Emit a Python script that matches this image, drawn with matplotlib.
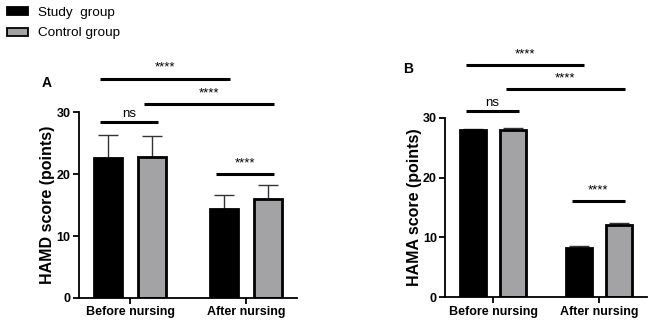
import matplotlib
matplotlib.use('Agg')
import matplotlib.pyplot as plt
from matplotlib.patches import Patch

plt.rcParams['font.family'] = ['Liberation Sans', 'DejaVu Sans']

groups = ['Before nursing', 'After nursing']
series = ['Study  group', 'Control group']

hamd_mean = {'Study  group': [22.6, 14.4], 'Control group': [22.8, 16.0]}
hamd_sd = {'Study  group': [3.8, 2.2], 'Control group': [3.4, 2.3]}
hama_mean = {'Study  group': [28.0, 8.3], 'Control group': [28.0, 12.1]}
hama_sd = {'Study  group': [0.15, 0.35], 'Control group': [0.2, 0.25]}

# comparisons: (group_i, series_i, group_j, series_j, height, label)
hamd_sig = [(0, 0, 0, 1, 28.5, 'ns'), (0, 0, 1, 0, 35.4, '****'),
            (0, 1, 1, 1, 31.3, '****'), (1, 0, 1, 1, 20.0, '****')]
hama_sig = [(0, 0, 0, 1, 31.2, 'ns'), (0, 0, 1, 0, 38.8, '****'),
            (0, 1, 1, 1, 34.8, '****'), (1, 0, 1, 1, 16.1, '****')]

colors = ['black', '#a3a3a6']
offset = 0.19
width = 0.245

fig = plt.figure(figsize=(6.52, 3.23), dpi=100)
axA = fig.add_axes([0.1212, 0.0774, 0.3343, 0.5749])
axB = fig.add_axes([0.6830, 0.0796, 0.3093, 0.5560])


def draw(ax, means, sds, sigs, ylabel, xlim):
    for k, s in enumerate(series):
        xs = [g + (2 * k - 1) * offset for g in range(len(groups))]
        ax.errorbar(xs, means[s], yerr=[[0] * len(xs), sds[s]], fmt='none',
                    ecolor='#333333', elinewidth=1, capsize=7, capthick=1, zorder=1)
        ax.bar(xs, means[s], width=width, color=colors[k], edgecolor='black',
               linewidth=2, zorder=2)
    for gi, si, gj, sj, h, lab in sigs:
        x1 = gi + (2 * si - 1) * offset - 0.07
        x2 = gj + (2 * sj - 1) * offset + 0.05
        ax.plot([x1, x2], [h, h], color='black', lw=2.2, clip_on=False,
                solid_capstyle='butt')
        if lab == 'ns':
            ax.text((x1 + x2) / 2, h + 0.7, lab, ha='center', va='baseline', fontsize=9.5)
        else:
            ax.text((x1 + x2) / 2, h + 1.3, lab, ha='center', va='baseline', fontsize=9.5)
    ax.set_xlim(*xlim)
    ax.set_ylim(0, 30)
    ax.set_yticks([0, 10, 20, 30])
    ax.set_xticks(range(len(groups)))
    ax.set_xticklabels(groups, fontsize=9, fontweight='bold')
    for lab in ax.get_yticklabels():
        lab.set_fontweight('bold')
        lab.set_fontsize(9)
    ax.set_ylabel(ylabel, fontsize=11.5, fontweight='bold', labelpad=1)
    ax.spines['top'].set_visible(False)
    ax.spines['right'].set_visible(False)
    ax.spines['left'].set_linewidth(1.3)
    ax.spines['bottom'].set_linewidth(1.3)
    ax.tick_params(axis='both', width=1.3, length=4, pad=2)


draw(axA, hamd_mean, hamd_sd, hamd_sig, 'HAMD score (points)', (-0.44, 1.44))
draw(axB, hama_mean, hama_sd, hama_sig, 'HAMA score (points)', (-0.453, 1.45))
axA.text(-0.17, 1.158, 'A', transform=axA.transAxes, fontsize=10,
         fontweight='bold', ha='left', va='center')
axB.text(-0.21, 1.27, 'B', transform=axB.transAxes, fontsize=10,
         fontweight='bold', ha='left', va='center')

handles = [Patch(facecolor=colors[k], edgecolor='black', linewidth=1.3) for k in range(2)]
fig.legend(handles, series, loc='upper left', bbox_to_anchor=(0.0, 1.0), frameon=False,
           fontsize=9.7, handlelength=1.6, handleheight=0.5, labelspacing=0.65,
           handletextpad=0.75, borderaxespad=0.1)

fig.savefig('out.png', dpi=100)
